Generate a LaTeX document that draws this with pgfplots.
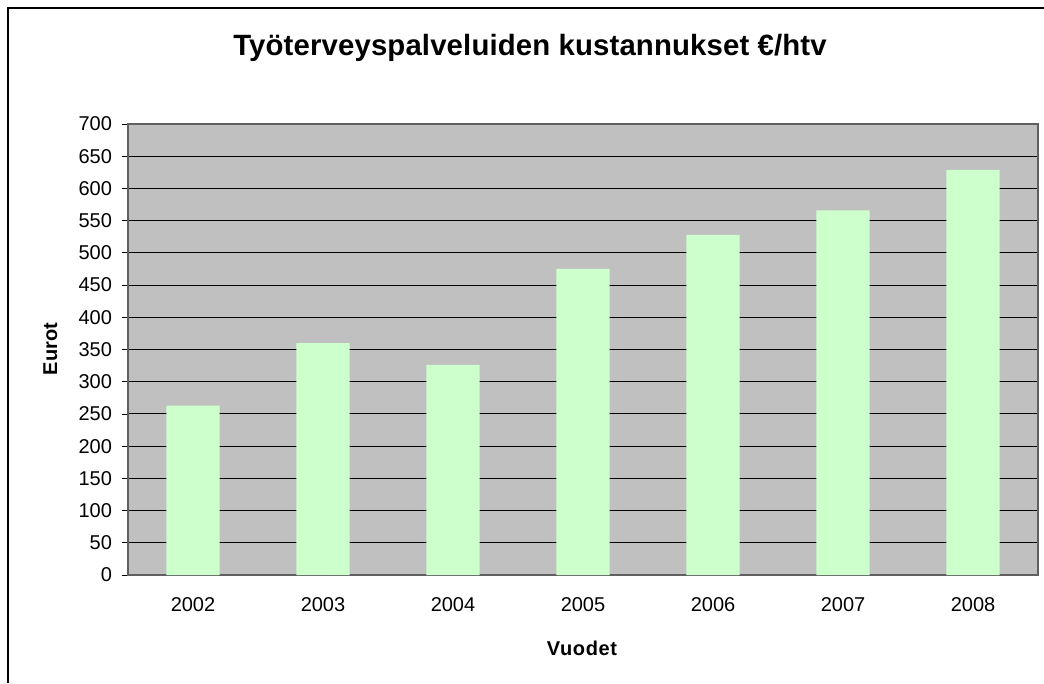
\documentclass[border=0pt]{standalone}
\usepackage{fontspec}
\setmainfont{Liberation Sans}
\usepackage{pgfplots}
\pgfplotsset{compat=1.18}
\definecolor{plotbg}{HTML}{C0C0C0}
\definecolor{barfill}{HTML}{CCFFCC}
\definecolor{axisgray}{HTML}{606060}
\begin{document}
\begin{tikzpicture}[x=0.75pt,y=0.75pt]
\useasboundingbox (0,0) rectangle (1044,683);
\draw[line width=1.5pt] (8,0) -- (8,675) -- (1044,675);
\begin{axis}[
  at={(96pt,81pt)}, anchor=south west,
  scale only axis, width=682.5pt, height=338.25pt,
  xmin=-0.5, xmax=6.5, ymin=0, ymax=700,
  ytick={0,50,...,700},
  xtick={0,...,6},
  xticklabels={2002,2003,2004,2005,2006,2007,2008},
  xtick style={draw=none},
  extra x ticks={-0.5,0.5,1.5,2.5,3.5,4.5,5.5,6.5},
  extra x tick labels={},
  extra x tick style={grid=none, tick style={draw=black, line width=0.6pt}, major tick length=5.5pt},
  ytick style={draw=black, line width=0.6pt},
  major tick length=4.5pt,
  tick pos=left, tick align=outside,
  ymajorgrids,
  major grid style={black, line width=0.75pt},
  axis line style={draw=axisgray, line width=1.2pt},
  axis background/.style={fill=plotbg},
  /pgf/number format/assume math mode=true,
  ticklabel style={font=\fontsize{15}{18}\selectfont},
  xticklabel style={yshift=-9pt},
  yticklabel style={xshift=-4pt},
]
\addplot[ybar, bar width=0.41, fill=barfill, draw=none] coordinates {
  (0,263) (1,360) (2,326) (3,475) (4,528) (5,566) (6,629)
};
\end{axis}
\node[anchor=base, font=\fontsize{22}{26}\selectfont\bfseries\addfontfeature{LetterSpace=0.5}] at (530,627) {Työterveyspalveluiden kustannukset €/htv};
\node[anchor=base, font=\fontsize{15}{18}\selectfont\bfseries\addfontfeature{LetterSpace=3}] at (582,27.3) {Vuodet};
\node[anchor=base, rotate=90, font=\fontsize{15}{18}\selectfont\bfseries] at (57,334) {Eurot};
\end{tikzpicture}
\end{document}
